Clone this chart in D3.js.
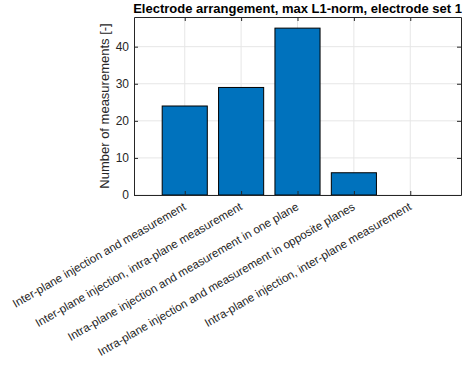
<!DOCTYPE html>
<html>
<head>
<meta charset="utf-8">
<script src="https://cdn.jsdelivr.net/npm/d3@7"></script>
<style>
  body { margin: 0; background: #fff; }
  text { font-family: "Liberation Sans", Arial, Helvetica, sans-serif; }
</style>
</head>
<body>
<div id="chart"></div>
<script>
// data
const categories = [
  "Inter-plane injection and measurement",
  "Inter-plane injection, intra-plane measurement",
  "Intra-plane injection and measurement in one plane",
  "Intra-plane injection and measurement in opposite planes",
  "Intra-plane injection, inter-plane measurement"
];
const counts = [24, 29, 45, 6, 0];
const yTicks = [0, 10, 20, 30, 40];
const titleText = "Electrode arrangement, max L1-norm, electrode set 1";
const yLabel = "Number of measurements [-]";

const svgWidth = 462;
const svgHeight = 369;
const margin = { top: 17, right: 1, bottom: 174, left: 134 };
const chartWidth = svgWidth - margin.left - margin.right;
const chartHeight = svgHeight - margin.top - margin.bottom;

const svg = d3.select("#chart")
  .append("svg")
  .attr("width", svgWidth)
  .attr("height", svgHeight);

const chartGroup = svg.append("g")
  .attr("transform", `translate(${margin.left},${margin.top})`);

const idx = categories.map((c, i) => i + 1);

const xScale = d3.scaleLinear()
  .domain([0.1, 5.9])
  .range([0, chartWidth]);

const yScale = d3.scaleLinear()
  .domain([0, 48])
  .range([chartHeight, 0]);

// grid lines
chartGroup.append("g")
  .selectAll("line")
  .data(yTicks)
  .enter()
  .append("line")
  .attr("x1", 0).attr("x2", chartWidth)
  .attr("y1", d => yScale(d)).attr("y2", d => yScale(d))
  .attr("stroke", "#e6e6e6");

chartGroup.append("g")
  .selectAll("line")
  .data(idx)
  .enter()
  .append("line")
  .attr("x1", d => xScale(d)).attr("x2", d => xScale(d))
  .attr("y1", 0).attr("y2", chartHeight)
  .attr("stroke", "#e6e6e6");

// bars
const barW = xScale(0.8) - xScale(0);
chartGroup.append("g")
  .selectAll("rect")
  .data(counts)
  .enter()
  .append("rect")
  .attr("x", (d, i) => xScale(idx[i]) - barW / 2)
  .attr("y", d => yScale(d))
  .attr("width", barW)
  .attr("height", d => chartHeight - yScale(d))
  .attr("fill", "#0072bd")
  .attr("stroke", "#000")
  .attr("stroke-width", 1);

// axes
const bottomAxis = d3.axisBottom(xScale).tickValues(idx).tickFormat("").tickSizeInner(-4).tickSizeOuter(0);
const topAxis = d3.axisTop(xScale).tickValues(idx).tickFormat("").tickSizeInner(-4).tickSizeOuter(0);
const leftAxis = d3.axisLeft(yScale).tickValues(yTicks).tickSizeInner(-4).tickSizeOuter(0).tickPadding(5);
const rightAxis = d3.axisRight(yScale).tickValues(yTicks).tickFormat("").tickSizeInner(-4).tickSizeOuter(0);

const styleAxis = g => {
  g.selectAll("path").attr("stroke", "#262626");
  g.selectAll("line").attr("stroke", "#262626");
  g.selectAll("text").attr("fill", "#262626").attr("font-size", "12px")
    .style("font-family", "'Liberation Sans', Arial, sans-serif");
};

chartGroup.append("g").attr("transform", `translate(0,${chartHeight})`).call(bottomAxis).call(styleAxis);
chartGroup.append("g").call(topAxis).call(styleAxis);
chartGroup.append("g").call(leftAxis).call(styleAxis);
chartGroup.append("g").attr("transform", `translate(${chartWidth},0)`).call(rightAxis).call(styleAxis);

// rotated category labels
chartGroup.append("g")
  .selectAll("text")
  .data(categories)
  .enter()
  .append("text")
  .attr("transform", (d, i) => `translate(${xScale(idx[i]) + 2},${chartHeight + 14}) rotate(-30)`)
  .attr("text-anchor", "end")
  .attr("font-size", "11.6px")
  .attr("fill", "#262626")
  .text(d => d);

// y label
chartGroup.append("text")
  .attr("transform", `translate(-25,${chartHeight / 2}) rotate(-90)`)
  .attr("text-anchor", "middle")
  .attr("font-size", "13px")
  .attr("fill", "#262626")
  .text(yLabel);

// title
chartGroup.append("text")
  .attr("x", chartWidth / 2)
  .attr("y", -4)
  .attr("text-anchor", "middle")
  .attr("font-size", "13px")
  .attr("font-weight", "bold")
  .attr("fill", "#000")
  .text(titleText);
</script>
</body>
</html>
